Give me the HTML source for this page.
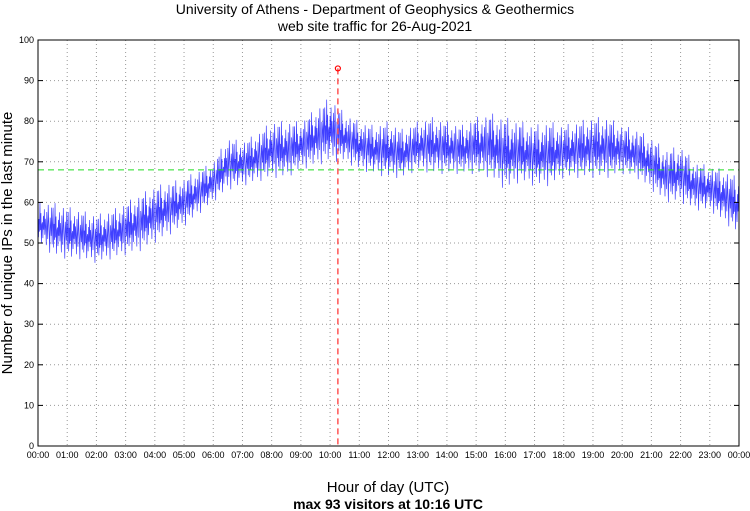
<!DOCTYPE html>
<html><head><meta charset="utf-8"><style>
body{margin:0;background:#fff;}
svg{display:block;font-family:"Liberation Sans",sans-serif;}
</style></head><body>
<svg id="chart" width="750" height="511">
<text x="375" y="14" text-anchor="middle" font-size="14">University of Athens - Department of Geophysics &amp; Geothermics</text>
<text x="375" y="31" text-anchor="middle" font-size="14">web site traffic for 26-Aug-2021</text>
<g id="grid"></g>
<g id="series"></g>
<g id="marks"></g>
<rect x="38" y="40" width="701" height="406" fill="none" stroke="#000" stroke-width="1"/>
<g id="axes"></g>
<text transform="translate(12,243) rotate(-90)" text-anchor="middle" font-size="15">Number of unique IPs in the last minute</text>
<text x="388" y="492" text-anchor="middle" font-size="15">Hour of day (UTC)</text>
<text x="388" y="509" text-anchor="middle" font-size="14" font-weight="bold">max 93 visitors at 10:16 UTC</text>
</svg>
<script>
const lowEnv=[50,47,46,46,45,46,47,48,50,52,54,57,60,63,64,65,66,66,68,69,70,70,68,67,66,66,68,67,67,67,67,66,63,65,64,64,66,66,66,66,67,66,63,60,60,58,58,55,52];
const highEnv=[60,60,59,58,57,58,60,62,64,65,66,68,70,76,75,77,80,80,80,83,86,82,80,79,80,78,80,81,80,79,81,82,81,80,79,80,79,80,81,81,79,78,76,73,74,70,69,68,66];
const yTicks=[0,10,20,30,40,50,60,70,80,90,100];
const xTickLabels=["00:00","01:00","02:00","03:00","04:00","05:00","06:00","07:00","08:00","09:00","10:00","11:00","12:00","13:00","14:00","15:00","16:00","17:00","18:00","19:00","20:00","21:00","22:00","23:00","00:00"];
const meanValue=68;
const maxValue=93;
const maxMinute=616;
const NS="http://www.w3.org/2000/svg";
const X0=38,X1=739,Y0=446,Y1=40;
const xs=m=>X0+(X1-X0)*m/1440;
const ys=v=>Y0-(Y0-Y1)*v/100;
function mk(t,a,p){const e=document.createElementNS(NS,t);for(const k in a)e.setAttribute(k,a[k]);p.appendChild(e);return e;}
const grid=document.getElementById('grid'),axes=document.getElementById('axes');
yTicks.forEach(v=>{
  const y=ys(v);
  if(v>0&&v<100){const l=mk('line',{x1:X0,x2:X1,y1:y,y2:y,stroke:'#999','stroke-dasharray':'1,3'},grid);
  
  }
  mk('line',{x1:X0,x2:X0+5,y1:y,y2:y,stroke:'#000'},axes);
  mk('line',{x1:X1-5,x2:X1,y1:y,y2:y,stroke:'#000'},axes);
  const t=mk('text',{x:X0-4,y:y+3,'text-anchor':'end','font-size':9},axes);t.textContent=v;
  
  
});
xTickLabels.forEach((s,i)=>{
  const x=xs(i*60);
  if(i>0&&i<24){const l=mk('line',{x1:x,x2:x,y1:Y1,y2:Y0,stroke:'#999','stroke-dasharray':'1,3'},grid);
  
  }
  const t=mk('text',{x:x,y:458,'text-anchor':'middle','font-size':9},axes);t.textContent=s;
  
  
});
const pat=[0.9,0.15,0.6,0.3,1,0.35,0.75,0.05,0.5,0.55,0.2,0.7,0.4,0.85,0.3,0.65,0.45,0.1,0.8,0.5,0.25,0.95,0.6,0.4,0.0,0.7,0.55,0.35,0.9,0.2,0.6];
let d='';
for(let m=0;m<=1440;m++){
  const k=m/30,i=Math.min(47,Math.floor(k)),f=k-i;
  const lo=lowEnv[i]+(lowEnv[i+1]-lowEnv[i])*f,hi=highEnv[i]+(highEnv[i+1]-highEnv[i])*f;
  const v=lo+(hi-lo)*pat[m%pat.length];
  d+=(m?'L':'M')+xs(m).toFixed(2)+' '+ys(v).toFixed(2);
}
const series=document.getElementById('series');
const p=mk('path',{d:d,fill:'none',stroke:'#0000ff','stroke-width':0.7,'stroke-opacity':0.75},series);


const marks=document.getElementById('marks');
const ml=mk('line',{x1:X0,x2:X1,y1:ys(meanValue),y2:ys(meanValue),stroke:'#22dd22','stroke-dasharray':'6,4'},marks);


const vl=mk('line',{x1:xs(maxMinute),x2:xs(maxMinute),y1:ys(maxValue),y2:Y0,stroke:'#ff5555','stroke-width':1.5,'stroke-dasharray':'6,4'},marks);


const mc=mk('circle',{cx:xs(maxMinute),cy:ys(maxValue),r:2.5,fill:'none',stroke:'#ff0000','stroke-width':1.2},marks);


</script>
</body></html>
